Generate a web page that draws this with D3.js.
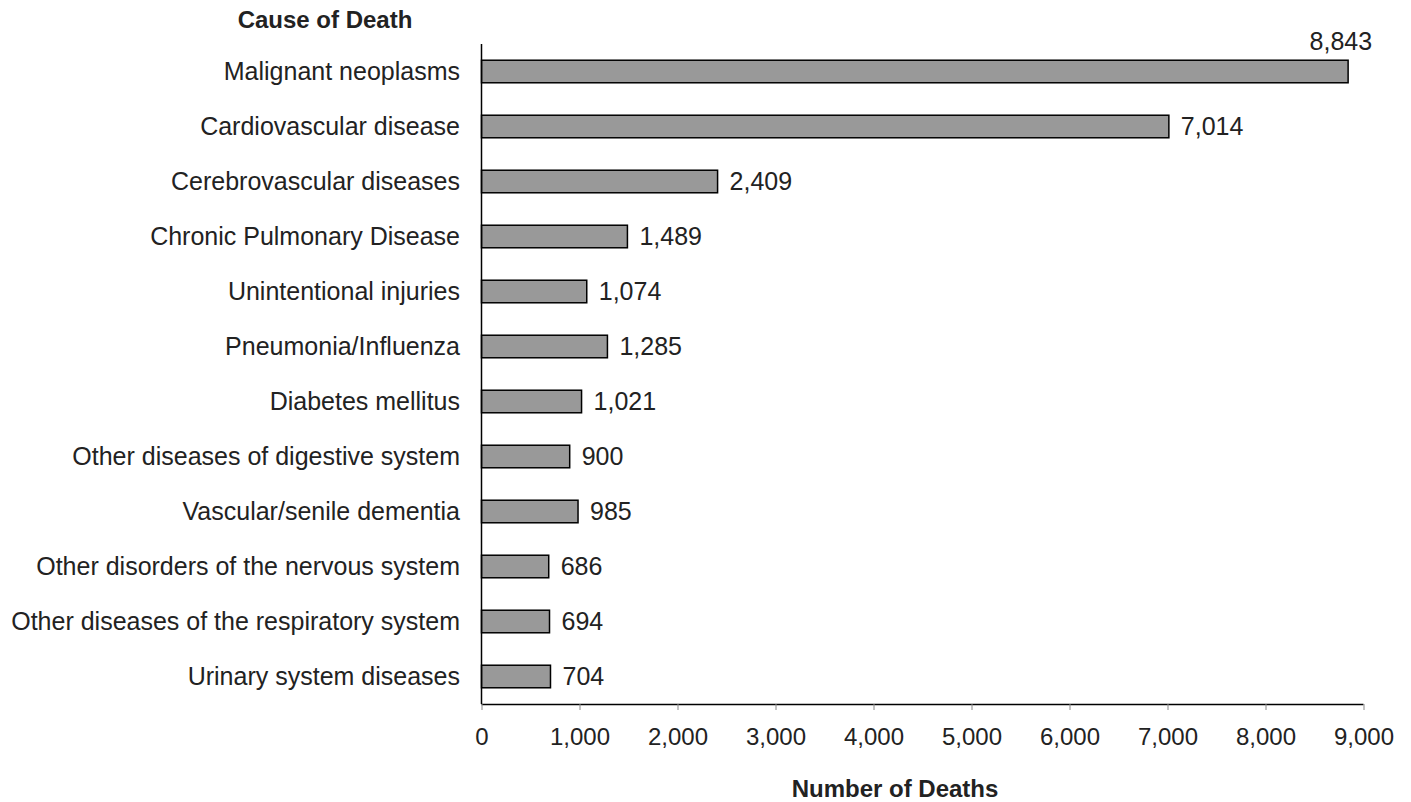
<!DOCTYPE html>
<html><head><meta charset="utf-8">
<script src="https://cdn.jsdelivr.net/npm/d3@7"></script>
<style>body{margin:0;background:#fff;font-family:"Liberation Sans",Arial,sans-serif;}</style>
</head><body>
<svg id="c" width="1411" height="802"></svg>
<script>
const categories = ["Malignant neoplasms","Cardiovascular disease","Cerebrovascular diseases","Chronic Pulmonary Disease","Unintentional injuries","Pneumonia/Influenza","Diabetes mellitus","Other diseases of digestive system","Vascular/senile dementia","Other disorders of the nervous system","Other diseases of the respiratory system","Urinary system diseases"];
const values = [8843,7014,2409,1489,1074,1285,1021,900,985,686,694,704];
const xTicks = [0,1000,2000,3000,4000,5000,6000,7000,8000,9000];

const svg = d3.select("#c");
const pLeft = 481.5, pRight = 1363.5, pTop = 44, pBottom = 704;
const x = d3.scaleLinear().domain([0,9000]).range([pLeft,pRight]);
const y = d3.scaleBand().domain(categories).range([pTop,pBottom]).paddingInner(0.59).paddingOuter(0.295);
const fmt = d3.format(",");
const txt = "#222";

// bars
svg.append("g").selectAll("rect").data(categories).join("rect")
  .attr("x", x(0)).attr("y", d=>y(d))
  .attr("width", (d,i)=>x(values[i])-x(0)).attr("height", y.bandwidth())
  .attr("fill","#999999").attr("stroke","#000").attr("stroke-width",1.5);

// x axis
const xa = svg.append("g").attr("transform",`translate(0,${pBottom})`)
  .call(d3.axisBottom(x).tickValues(xTicks).tickFormat(fmt).tickSize(6).tickPadding(18));
xa.select(".domain").attr("stroke","#000").attr("stroke-width",1.5).attr("d",`M${pLeft},0.5H${pRight}`);
xa.selectAll(".tick line").attr("stroke","#888");
xa.selectAll(".tick text").attr("font-size",24).attr("fill",txt).attr("font-family","Liberation Sans, Arial, sans-serif");

// y axis line
svg.append("line").attr("x1",pLeft).attr("x2",pLeft).attr("y1",pTop).attr("y2",pBottom)
  .attr("stroke","#000").attr("stroke-width",1.5);

// category labels
svg.append("g").selectAll("text").data(categories).join("text")
  .attr("x", 460).attr("y", d=>y(d)+y.bandwidth()/2).attr("dy","0.35em")
  .attr("text-anchor","end").attr("font-size",25).attr("fill",txt).text(d=>d);

// value labels
svg.append("g").selectAll("text").data(categories).join("text")
  .attr("x", (d,i)=> i===0 ? x(values[i])+24 : x(values[i])+12)
  .attr("y", (d,i)=> i===0 ? y(d)-10 : y(d)+y.bandwidth()/2)
  .attr("dy", (d,i)=> i===0 ? 0 : "0.35em")
  .attr("text-anchor", (d,i)=> i===0 ? "end" : "start")
  .attr("font-size",25).attr("fill",txt).text((d,i)=>fmt(values[i]));

// titles
svg.append("text").attr("x",325).attr("y",28).attr("text-anchor","middle")
  .attr("font-size",24).attr("font-weight","bold").attr("fill",txt).text("Cause of Death");
svg.append("text").attr("x",895).attr("y",797).attr("text-anchor","middle")
  .attr("font-size",24).attr("font-weight","bold").attr("fill",txt).text("Number of Deaths");
</script>
</body></html>
